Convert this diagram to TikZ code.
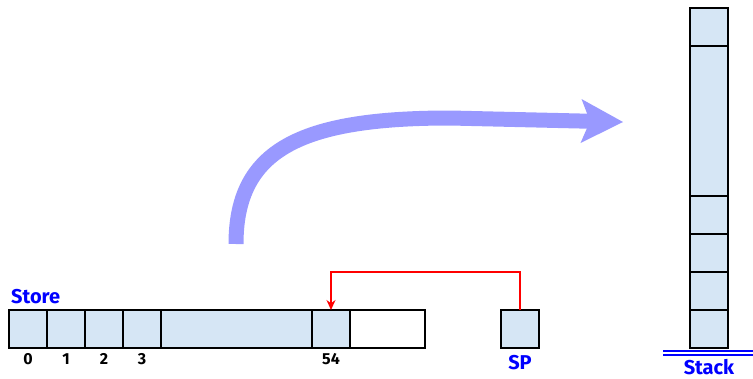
\documentclass[tikz,border=0pt]{standalone}
\usepackage{fontspec}
\setmainfont{Fira Sans}
\usetikzlibrary{arrows.meta, positioning}
\definecolor{cellblue}{RGB}{214,230,245}

\begin{document}
\begin{tikzpicture}[x=1pt, y=-1pt,
  cell/.style={draw, fill=cellblue, line width=1.1pt, minimum width=38pt, minimum height=38pt, inner sep=0pt, outer sep=0pt},
  idx/.style={font=\fontsize{16}{18}\selectfont\bfseries, inner sep=0pt},
  lbl/.style={font=\fontsize{20}{22}\selectfont\bfseries, text=blue, inner sep=0pt},
  ptr/.style={-{Stealth[length=10pt, width=9pt]}, red, line width=1.4pt},
  move/.style={-{Stealth[length=42pt, width=44pt, inset=9pt, line width=0pt]}, blue!40, line width=15pt},
]
\useasboundingbox (0,0) rectangle (753,378);

% store
\node[cell] (s0) at (28,329) {};
\node[cell, right=0pt of s0] (s1) {};
\node[cell, right=0pt of s1] (s2) {};
\node[cell, right=0pt of s2] (s3) {};
\node[cell, right=0pt of s3, minimum width=151pt] (smid) {};
\node[cell, right=0pt of smid] (s54) {};
\node[cell, right=0pt of s54, minimum width=75pt, fill=white] (sfree) {};
\foreach \c/\t in {s0/0, s1/1, s2/2, s3/3, s54/54}
  \node[idx, anchor=base] (i\t) at ([yshift=-16pt]\c.south) {\t};
\node[lbl, anchor=base west] (storelbl) at ([xshift=2pt, yshift=7pt]s0.north west) {Store};

% stack pointer
\node[cell] (sp) at (520,329) {};
\node[lbl, anchor=base] (splbl) at ([yshift=-21pt]sp.south) {SP};

% stack
\node[cell] (st0) at (709,329) {};
\node[cell, above=0pt of st0] (st1) {};
\node[cell, above=0pt of st1] (st2) {};
\node[cell, above=0pt of st2] (st3) {};
\node[cell, above=0pt of st3, minimum height=150pt] (stbig) {};
\node[cell, above=0pt of stbig] (sttop) {};
\draw[blue, double, double distance=2.2pt, line width=1.5pt]
  ([xshift=-27pt, yshift=-5pt]st0.south west) -- ++(90,0);
\node[lbl, anchor=base] (stacklbl) at ([yshift=-26pt]st0.south) {Stack};

\draw[ptr] (sp.north) -- ++(0,-38) -| (s54.north);

\coordinate (from) at (236,244);
\coordinate (to) at (623,122);
\draw[move] (from) .. controls (236,150) and (300,118) .. (450,118) -- (to);
\end{tikzpicture}
\end{document}
